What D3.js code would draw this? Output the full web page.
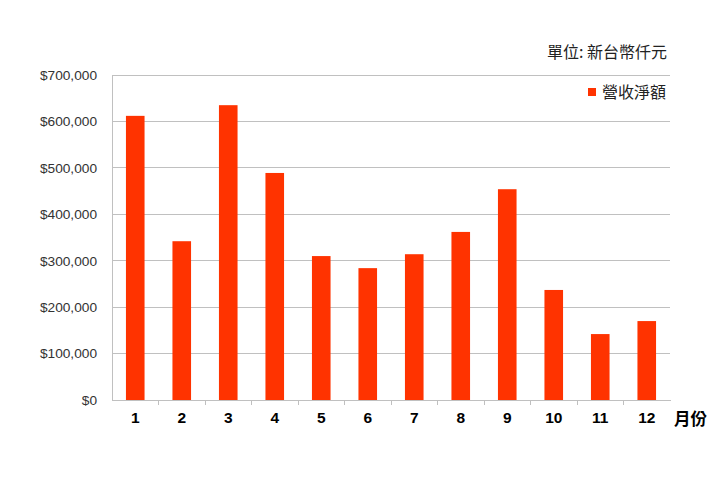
<!DOCTYPE html>
<html><head><meta charset="utf-8">
<script src="https://cdn.jsdelivr.net/npm/d3@7"></script>
<style>body{margin:0;background:#fff}svg{display:block}</style>
</head><body>
<svg id="c" width="720" height="490"></svg>
<script>
const months = ["1","2","3","4","5","6","7","8","9","10","11","12"];
const revenue = [612000, 342000, 635000, 489000, 310000, 284000, 314000, 362000, 454000, 237000, 142000, 170000];
const yTicks = [0,100000,200000,300000,400000,500000,600000,700000];
const seriesName = "營收淨額";
const unitLabel = "單位: 新台幣仟元";
const xTitle = "月份";

const svg = d3.select("#c");
const L = 112, R = 670, T = 75, B = 400;
const x = d3.scaleBand().domain(months).range([L, R]).paddingInner(0.6).paddingOuter(0.3);
const xb = d3.scaleBand().domain(months).range([L, R]);
const y = d3.scaleLinear().domain([0, 700000]).range([B, T]);
const font = "'Liberation Sans', Arial, sans-serif";
const cjk = "'Noto Sans CJK TC', 'Noto Sans', sans-serif";

// gridlines
svg.append("g").selectAll("line").data(yTicks.filter(d=>d>0)).join("line")
  .attr("x1", L).attr("x2", R).attr("y1", d=>y(d)).attr("y2", d=>y(d))
  .attr("stroke", "#c0c0c0").attr("stroke-width", 1).attr("shape-rendering","crispEdges");

// y axis
const yAxis = d3.axisLeft(y).tickValues(yTicks).tickSize(0).tickPadding(15)
  .tickFormat(d => "$" + d3.format(",")(d));
const gy = svg.append("g").attr("transform", `translate(${L},0)`).call(yAxis);
gy.select(".domain").attr("stroke", "#c0c0c0").attr("shape-rendering","crispEdges");
gy.selectAll("text").attr("font-family", font).attr("font-size", 13.7).attr("fill", "#333");

// bars
svg.append("g").selectAll("rect").data(revenue).join("rect")
  .attr("x", (d,i)=>x(months[i])).attr("width", x.bandwidth())
  .attr("y", d=>y(d)).attr("height", d=>B - y(d))
  .attr("fill", "#ff3300");

// x axis
const xAxis = d3.axisBottom(xb).tickSize(0).tickPadding(12);
const gx = svg.append("g").attr("transform", `translate(0,${B})`).call(xAxis);
gx.select(".domain").attr("stroke", "#c0c0c0").attr("shape-rendering","crispEdges");
gx.selectAll("text").attr("font-family", font).attr("font-size", 15.5).attr("font-weight", "bold").attr("fill", "#000");
// category boundary ticks
svg.append("g").selectAll("line").data(months.slice(1)).join("line")
  .attr("x1", d=>xb(d)).attr("x2", d=>xb(d)).attr("y1", B).attr("y2", B+5)
  .attr("stroke", "#c0c0c0").attr("shape-rendering","crispEdges");

// x title
svg.append("text").attr("x", 674).attr("y", 425).attr("font-family", cjk)
  .attr("font-size", 16.5).attr("font-weight", "bold").text(xTitle);

// unit label
svg.append("text").attr("x", 667).attr("y", 58).attr("text-anchor", "end")
  .attr("font-family", cjk).attr("font-size", 16).attr("fill", "#222").text(unitLabel);

// legend
svg.append("rect").attr("x", 588).attr("y", 88).attr("width", 8).attr("height", 8).attr("fill", "#ff3300");
svg.append("text").attr("x", 602).attr("y", 98).attr("font-family", cjk)
  .attr("font-size", 16).attr("fill", "#222").text(seriesName);
</script>
</body></html>
